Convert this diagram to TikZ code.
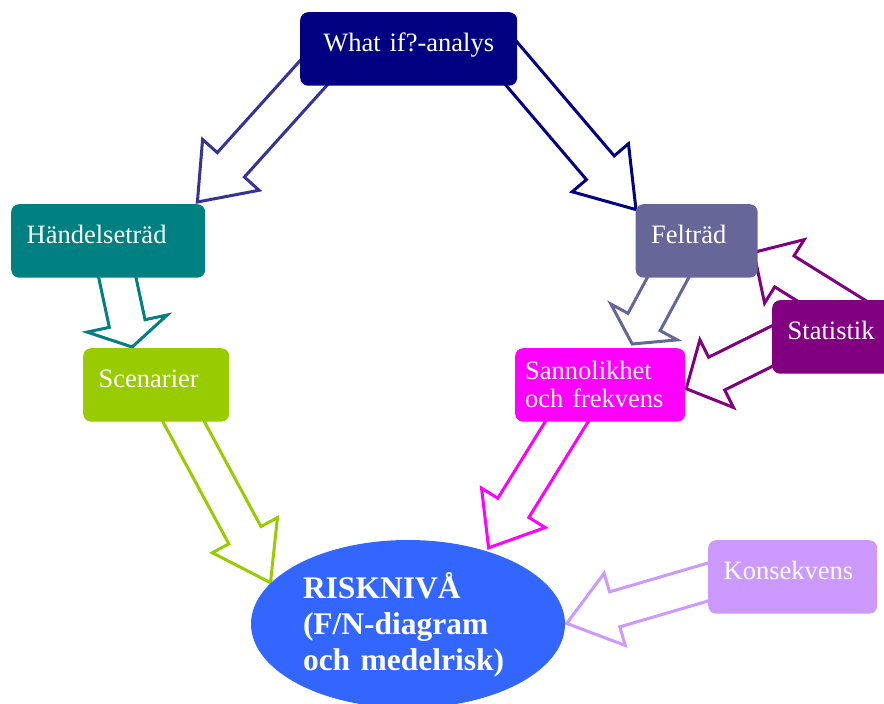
\documentclass[tikz,border=0pt]{standalone}
\usepackage{fontspec}
\setmainfont{Liberation Serif}
\usetikzlibrary{calc,shapes.geometric,backgrounds}
\definecolor{cNavy}{HTML}{000080}
\definecolor{cIndigo}{HTML}{333399}
\definecolor{cTeal}{HTML}{008080}
\definecolor{cLime}{HTML}{99CC00}
\definecolor{cSlate}{HTML}{666699}
\definecolor{cPurple}{HTML}{800080}
\definecolor{cMagenta}{HTML}{FF00FF}
\definecolor{cLilac}{HTML}{CC99FF}
\definecolor{cRisk}{HTML}{3366FF}
% #1 colour, #2 tail coordinate, #3 tip coordinate, #4 head length, #5 head half width
\newcommand{\blockarrow}[5]{%
  \coordinate (baB) at ($(#3)!#4!(#2)$);
  \draw[barrowstyle, draw=#1]
    ($(#2)!18.25pt!90:(#3)$) -- ($(baB)!18.25pt!90:(#3)$) -- ($(baB)!#5!90:(#3)$) -- (#3)
    -- ($(baB)!#5!-90:(#3)$) -- ($(baB)!18.25pt!-90:(#3)$) -- ($(#2)!18.25pt!-90:(#3)$) -- cycle;
}
\begin{document}
\begin{tikzpicture}[x=1pt,y=-1pt,
  box/.style={rectangle, rounded corners=8pt, anchor=north west, minimum height=73.5pt,
    inner xsep=15.5pt, inner ysep=0pt, align=left, text=white,
    font=\fontsize{26.5pt}{28pt}\selectfont, text height=20pt, text depth=15.5pt},
  barrowstyle/.style={fill=white, line width=3pt, line join=miter}]
\useasboundingbox (0,0) rectangle (884,704);

% boxes
\node[box, fill=cNavy, minimum width=217pt, text width=186pt, align=center] (whatif) at (300,12) {What if?-analys};
\node[box, fill=cTeal, text width=163pt] (haendel) at (11,204) {Händelseträd};
\node[box, fill=cLime, text width=115pt] (scen) at (83,348) {Scenarier};
\node[box, fill=cSlate, text width=91pt] (felt) at (635.5,204) {Felträd};
\node[box, fill=cPurple, text width=99pt] (stat) at (772,300) {Statistik};
\node[box, fill=cMagenta, inner xsep=10pt, text width=150pt, text height=20pt, text depth=30pt] (sann) at (515,348) {Sannolikhet\\och frekvens};
\node[box, fill=cLilac, text width=138pt] (kons) at (708,540) {Konsekvens};
\node[ellipse, fill=cRisk, minimum width=314pt, minimum height=168pt, inner sep=0pt,
  text=white, font=\bfseries\fontsize{31.5pt}{36pt}\selectfont, align=left,
  text width=210pt, text height=24pt, text depth=76pt] (risk) at (408,624)
  {RISKNIVÅ\\(F/N-diagram\\och medelrisk)};

% arrow ends
\coordinate (t1) at ($(whatif.center)+(-89,17.15)$);
\coordinate (h1) at ($(haendel.north east)+(-8,-2)$);
\coordinate (t2) at ($(whatif.center)+(90.5,0.25)$);
\coordinate (h2) at ($(felt.north west)+(0.5,5.6)$);
\coordinate (t3) at ($(haendel.center)+(1.7,1.75)$);
\coordinate (h3) at ($(scen.north)+(-24,-1)$);
\coordinate (t4) at ($(scen.center)+(9.4,3.25)$);
\coordinate (h4) at ($(risk.center)+(-137.5,-41.3)$);
\coordinate (t5) at ($(felt.center)+(-17.9,16.65)$);
\coordinate (h5) at ($(sann.north)+(32,-4)$);
\coordinate (t6) at ($(stat.center)+(24.2,-17.55)$);
\coordinate (h6) at ($(felt.east)+(-4.1,11.4)$);
\coordinate (t7) at ($(stat.center)+(-46.1,-0.25)$);
\coordinate (h7) at ($(sann.east)+(0.8,3.75)$);
\coordinate (t8) at ($(sann.center)+(-22.3,18.65)$);
\coordinate (h8) at ($(risk.center)+(80.6,-76.2)$);
\coordinate (t9) at ($(kons.center)+(-60.8,-1.95)$);
\coordinate (h9) at ($(risk.east)+(1.5,-0.6)$);

\begin{pgfonlayer}{background}
\fill[white] (0,0) rectangle (884,704);
\blockarrow{cIndigo}{t1}{h1}{50pt}{38pt}
\blockarrow{cNavy}{t2}{h2}{55pt}{37pt}
\blockarrow{cTeal}{t3}{h3}{24pt}{41pt}
\blockarrow{cLime}{t4}{h4}{54pt}{37pt}
\blockarrow{cSlate}{t5}{h5}{25pt}{37.7pt}
\blockarrow{cPurple}{t6}{h6}{36pt}{37.4pt}
\blockarrow{cPurple}{t7}{h7}{34pt}{37.8pt}
\blockarrow{cMagenta}{t8}{h8}{47pt}{37.4pt}
\blockarrow{cLilac}{t9}{h9}{50pt}{37.6pt}
\end{pgfonlayer}
\end{tikzpicture}
\end{document}
